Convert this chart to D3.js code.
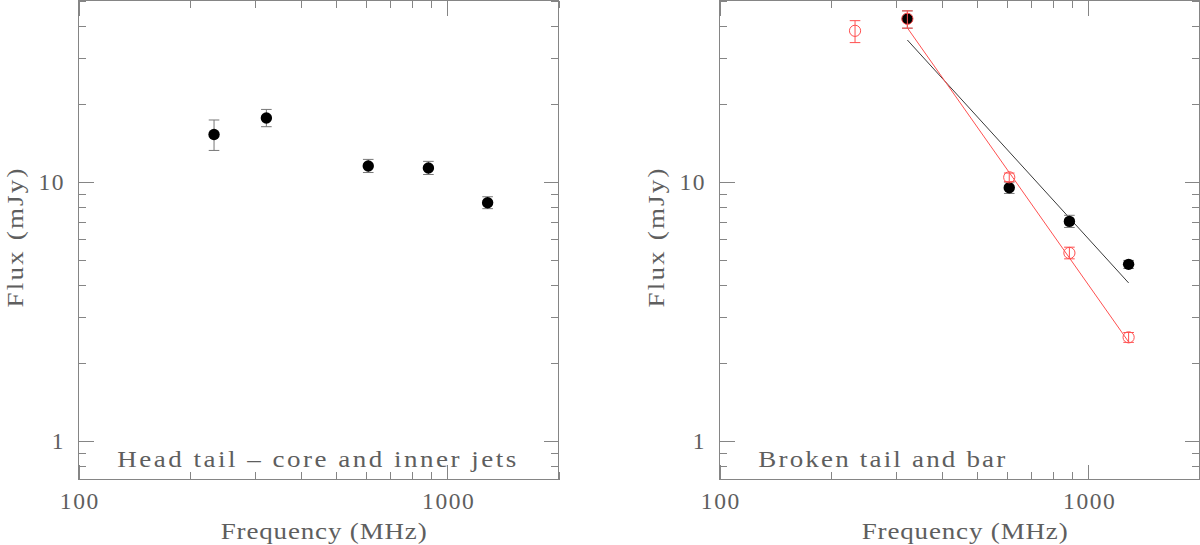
<!DOCTYPE html>
<html>
<head>
<meta charset="utf-8">
<script src="https://cdn.jsdelivr.net/npm/d3@7"></script>
<style>
  html, body { margin: 0; padding: 0; background: #fff; }
  svg { display: block; }
</style>
</head>
<body>
<div id="chart"></div>
<script>
// values
const xMajorTicks = [100, 1000];
const xMinorTicks = [200, 300, 400, 500, 600, 700, 800, 900, 2000];
const yMajorTicks = [1, 10];
const yMinorTicks = [0.8, 0.9, 2, 3, 4, 5, 6, 7, 8, 9, 20, 30, 40, 50];

// left panel: head tail, core and inner jets
const freqLeft = [233, 323, 610, 888, 1285];
const fluxLeft = [15.2, 17.6, 11.5, 11.3, 8.3];
const loLeft = [13.2, 16.3, 10.85, 10.66, 7.87];
const hiLeft = [17.3, 19.0, 12.19, 11.98, 8.75];

// right panel: broken tail (filled) and bar (open)
const freqTail = [323, 610, 888, 1285];
const fluxTail = [42.5, 9.48, 7.03, 4.80];
const loTail = [39.1, 9.01, 6.66, 4.63];
const hiTail = [45.6, 9.97, 7.42, 4.97];

const freqBar = [233, 323, 610, 888, 1285];
const fluxBar = [38.2, 42.5, 10.4, 5.31, 2.51];
const loBar = [34.4, 39.1, 10.0, 5.04, 2.40];
const hiBar = [41.8, 45.6, 10.8, 5.59, 2.62];

// power-law fits, end points
const fitTailFreq = [323, 1285];
const fitTailFlux = [35.2, 4.07];
const fitBarFreq = [323, 1285];
const fitBarFlux = [39.2, 2.41];

const width = 1200, height = 545;
const FONT = "'Liberation Serif', serif";
const FSIZE = 23.5;
const STRETCH = 1.15;
const TXT = "#5e5e5e";
const AX = "#858585";
const RED = "#ff5050";

let svg = d3.select("#chart").append("svg")
    .attr("width", width)
    .attr("height", height);

function rows(f, s, lo, hi) {
    return f.map((d, i) => ({f: d, s: s[i], lo: lo ? lo[i] : null, hi: hi ? hi[i] : null}));
}

// wide, lightly spaced text (close to the plotting font of the original)
function wideText(g, tx, ty, rot, str, len, anchor) {
    g.append("g")
        .attr("transform", `translate(${tx},${ty})rotate(${rot})scale(${STRETCH},1)`)
        .append("text")
        .attr("text-anchor", anchor)
        .attr("font-family", FONT).attr("font-size", FSIZE).attr("fill", TXT)
        .attr("textLength", len / STRETCH).attr("lengthAdjust", "spacing")
        .text(str);
}

function drawPanel(x0, label, labelLen) {
    let x = d3.scaleLog().domain([100, 2000]).range([x0, x0 + 480]);
    let y = d3.scaleLog().domain([0.71, 50]).range([479.5, 0.5]);
    let g = svg.append("g");

    // axes on all four sides, ticks pointing in
    function addAxis(axisFn, vals, size, labelled, transform) {
        let horiz = (axisFn === d3.axisBottom || axisFn === d3.axisTop);
        let a = axisFn(horiz ? x : y)
            .tickValues(vals)
            .tickSizeInner(-size)
            .tickSizeOuter(0)
            .tickPadding(horiz ? 14 : 15)
            .tickFormat(labelled ? d3.format("d") : "");
        let ag = g.append("g").attr("transform", transform).call(a);
        ag.select(".domain").remove();
        ag.selectAll("line").attr("stroke", AX).attr("shape-rendering", "crispEdges");
        ag.selectAll("text")
            .attr("font-family", FONT)
            .attr("font-size", FSIZE)
            .attr("fill", TXT)
            .attr("dy", horiz ? "0.68em" : "0.33em")
            .attr("textLength", d => labelled ? String(d).length * 13.3 - 1.5 : null)
            .attr("lengthAdjust", "spacing");
        return ag;
    }

    addAxis(d3.axisBottom, xMinorTicks, 7.5, false, "translate(0,479.5)");
    addAxis(d3.axisBottom, xMajorTicks, 15, true, "translate(0,479.5)");
    addAxis(d3.axisTop, xMinorTicks, 7.5, false, "translate(0,0.5)");
    addAxis(d3.axisTop, xMajorTicks, 15, false, "translate(0,0.5)");
    addAxis(d3.axisLeft, yMinorTicks, 7.5, false, `translate(${x0},0)`);
    addAxis(d3.axisLeft, yMajorTicks, 15, true, `translate(${x0},0)`);
    addAxis(d3.axisRight, yMinorTicks, 7.5, false, `translate(${x0 + 480},0)`);
    addAxis(d3.axisRight, yMajorTicks, 15, false, `translate(${x0 + 480},0)`);

    g.append("rect")
        .attr("x", x0).attr("y", 0.5)
        .attr("width", 480).attr("height", 479)
        .attr("fill", "none")
        .attr("stroke", AX);

    // axis titles and panel label
    wideText(g, x0 + 142.2, 539, 0, "Frequency (MHz)", 206, "start");
    wideText(g, x0 - 55.5, 238, -90, "Flux (mJy)", 139, "middle");
    wideText(g, x0 + 38.8, 467, 0, label, labelLen, "start");

    return {g: g, x: x, y: y};
}

function errorBars(p, data, color) {
    let eb = p.g.append("g").attr("stroke", color).attr("stroke-width", 1).attr("fill", "none");
    data.forEach(function (d) {
        let cx = p.x(d.f);
        eb.append("line").attr("x1", cx).attr("x2", cx).attr("y1", p.y(d.lo)).attr("y2", p.y(d.hi));
        eb.append("line").attr("x1", cx - 5.3).attr("x2", cx + 5.3).attr("y1", p.y(d.lo)).attr("y2", p.y(d.lo));
        eb.append("line").attr("x1", cx - 5.3).attr("x2", cx + 5.3).attr("y1", p.y(d.hi)).attr("y2", p.y(d.hi));
    });
}

function filledPoints(p, data) {
    p.g.append("g").selectAll("circle")
        .data(data)
        .enter()
        .append("circle")
        .attr("cx", d => p.x(d.f))
        .attr("cy", d => p.y(d.s))
        .attr("r", 5.7)
        .attr("fill", "#000");
}

function fitLine(p, data, color) {
    let line = d3.line().x(d => p.x(d.f)).y(d => p.y(d.s));
    p.g.append("path")
        .datum(data)
        .attr("d", line)
        .attr("fill", "none")
        .attr("stroke", color)
        .attr("stroke-width", 1);
}

// left panel
let left = drawPanel(78.5, "Head tail \u2013 core and inner jets", 399);
let leftData = rows(freqLeft, fluxLeft, loLeft, hiLeft);
errorBars(left, leftData, "#777");
filledPoints(left, leftData);

// right panel
let right = drawPanel(719.5, "Broken tail and bar", 247);
let tailData = rows(freqTail, fluxTail, loTail, hiTail);
let barData = rows(freqBar, fluxBar, loBar, hiBar);

fitLine(right, rows(fitTailFreq, fitTailFlux), "#3a3a3a");
fitLine(right, rows(fitBarFreq, fitBarFlux), RED);

errorBars(right, tailData, "#777");
filledPoints(right, tailData);

right.g.append("g").selectAll("circle")
    .data(barData)
    .enter()
    .append("circle")
    .attr("cx", d => right.x(d.f))
    .attr("cy", d => right.y(d.s))
    .attr("r", 5.6)
    .attr("fill", "none")
    .attr("stroke", RED)
    .attr("stroke-width", 1);
errorBars(right, barData, RED);
</script>
</body>
</html>
